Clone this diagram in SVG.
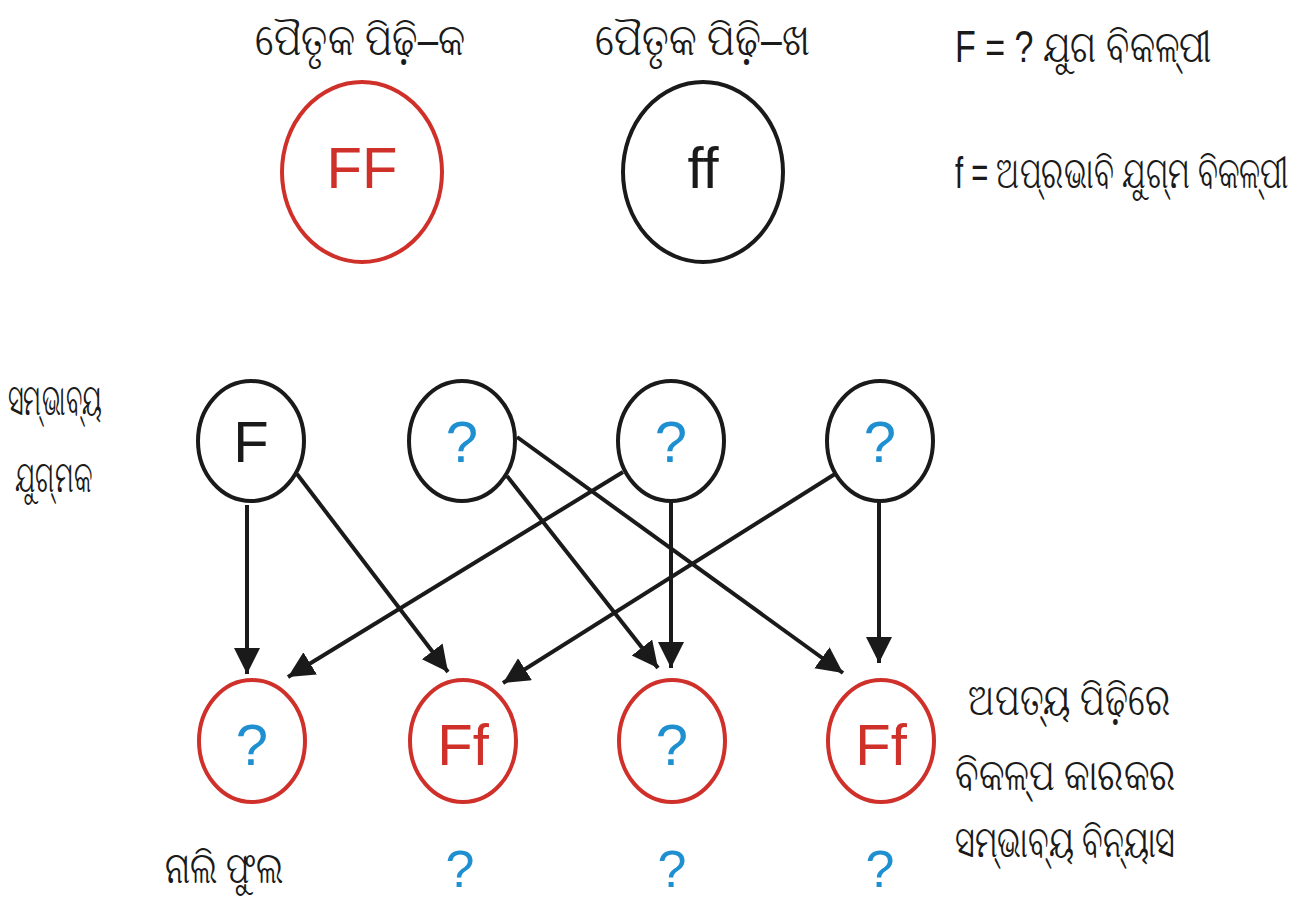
<svg xmlns="http://www.w3.org/2000/svg" width="1304" height="898" viewBox="0 0 1304 898">
<defs>
<style>
.bg{fill:#ffffff}
.lbl{font-family:"Liberation Sans","Noto Sans",sans-serif;fill:#1a1a1a}
.big{font-size:58px;text-anchor:middle}
.red{fill:#d0302a}
.blue{fill:#1e8fd0}
.blk{fill:#1a1a1a}
.nr{fill:none;stroke:#d0302a;stroke-width:4}
.nb{fill:none;stroke:#1a1a1a;stroke-width:4}
.edge{stroke:#1a1a1a;stroke-width:4;fill:none;marker-end:url(#arr)}
.side{font-size:45px}
</style>
<marker id="arr" markerUnits="userSpaceOnUse" markerWidth="28" markerHeight="28" refX="26" refY="13" orient="auto">
<path d="M0,0 L26,13 L0,26 z" fill="#1a1a1a"/>
</marker>
</defs>
<rect class="bg" x="0" y="0" width="1304" height="898"/>

<g id="labels">
<text class="lbl side" x="255" y="55" textLength="210" lengthAdjust="spacingAndGlyphs">ପୈତୃକ ପିଢ଼ି–କ</text>
<text class="lbl side" x="595" y="55" textLength="215" lengthAdjust="spacingAndGlyphs">ପୈତୃକ ପିଢ଼ି–ଖ</text>
<text class="lbl side" x="955" y="62" textLength="257" lengthAdjust="spacingAndGlyphs">F = ? ଯୁଗ ବିକଳ୍ପୀ</text>
<text class="lbl side" transform="translate(955,188) scale(0.65,1)" x="0" y="0">f = ଅପ୍ରଭାବି ଯୁଗ୍ମ ବିକଳ୍ପୀ</text>
<text class="lbl side" x="8" y="415" textLength="94" lengthAdjust="spacingAndGlyphs">ସମ୍ଭାବ୍ୟ</text>
<text class="lbl side" x="15" y="492" textLength="77" lengthAdjust="spacingAndGlyphs">ଯୁଗ୍ମକ</text>
<text class="lbl side" x="968" y="715" textLength="202" lengthAdjust="spacingAndGlyphs">ଅପତ୍ୟ ପିଢ଼ିରେ</text>
<text class="lbl side" x="955" y="790" textLength="220" lengthAdjust="spacingAndGlyphs">ବିକଳ୍ପ କାରକର</text>
<text class="lbl side" x="955" y="857" textLength="220" lengthAdjust="spacingAndGlyphs">ସମ୍ଭାବ୍ୟ ବିନ୍ୟାସ</text>
<text class="lbl side" x="165" y="883" textLength="118" lengthAdjust="spacingAndGlyphs">ନାଲି ଫୁଲ</text>
<text class="lbl blue" x="460" y="887" font-size="52" text-anchor="middle">?</text>
<text class="lbl blue" x="672" y="887" font-size="52" text-anchor="middle">?</text>
<text class="lbl blue" x="880" y="887" font-size="52" text-anchor="middle">?</text>
</g>

<g id="parentA">
<ellipse class="nr" cx="362" cy="172" rx="80" ry="90"/>
<text class="lbl big red" x="362" y="188">FF</text>
</g>
<g id="parentB">
<ellipse class="nb" cx="703" cy="172" rx="80" ry="90"/>
<text class="lbl big blk" x="703" y="188">ff</text>
</g>

<g id="gamete1">
<ellipse class="nb" cx="251" cy="441" rx="53" ry="60"/>
<text class="lbl big blk" x="251" y="462">F</text>
</g>
<g id="gamete2">
<ellipse class="nb" cx="462" cy="441" rx="53" ry="60"/>
<text class="lbl big blue" x="462" y="462">?</text>
</g>
<g id="gamete3">
<ellipse class="nb" cx="671" cy="441" rx="53" ry="60"/>
<text class="lbl big blue" x="671" y="462">?</text>
</g>
<g id="gamete4">
<ellipse class="nb" cx="880" cy="441" rx="53" ry="60"/>
<text class="lbl big blue" x="880" y="462">?</text>
</g>

<g id="offspring1">
<ellipse class="nr" cx="252" cy="741" rx="53" ry="61"/>
<text class="lbl big blue" x="252" y="765">?</text>
</g>
<g id="offspring2">
<ellipse class="nr" cx="463" cy="741" rx="53" ry="61"/>
<text class="lbl big red" x="463" y="765">Ff</text>
</g>
<g id="offspring3">
<ellipse class="nr" cx="672" cy="741" rx="53" ry="61"/>
<text class="lbl big blue" x="672" y="765">?</text>
</g>
<g id="offspring4">
<ellipse class="nr" cx="881" cy="741" rx="53" ry="61"/>
<text class="lbl big red" x="881" y="765">Ff</text>
</g>

<g id="connectors">
<line class="edge" x1="247" y1="505" x2="247" y2="674"/>
<line class="edge" x1="297" y1="474" x2="448" y2="672"/>
<line class="edge" x1="507" y1="476" x2="658" y2="668"/>
<line class="edge" x1="517" y1="437" x2="843" y2="673"/>
<line class="edge" x1="623" y1="472" x2="288" y2="677"/>
<line class="edge" x1="671" y1="502" x2="671" y2="668"/>
<line class="edge" x1="835" y1="474" x2="503" y2="683"/>
<line class="edge" x1="879" y1="502" x2="879" y2="663"/>
</g>
</svg>
